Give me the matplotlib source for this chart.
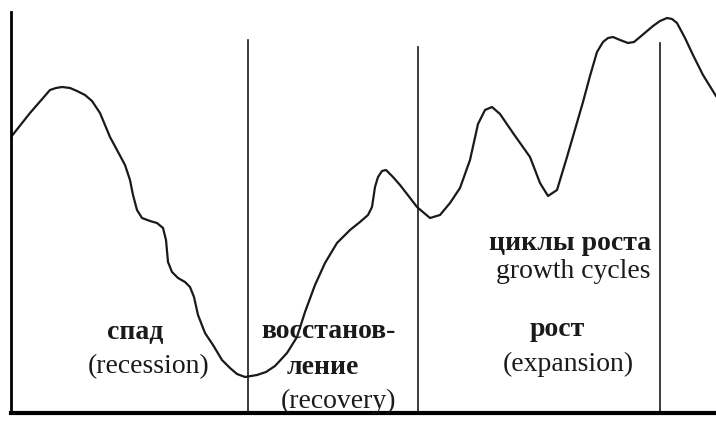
import numpy as np
import matplotlib.pyplot as plt

plt.rcParams['font.family'] = ['Liberation Serif', 'DejaVu Serif']

# curve: time (0..705) vs level (0..401)
t = [0, 19, 39, 45, 51, 59, 66, 74, 81, 89, 99, 106, 114, 119, 122, 126,
     131, 139, 146, 152, 155, 157, 161, 167, 174, 179, 183, 187, 194, 202,
     211, 219, 226, 234, 246, 255, 264, 276, 286, 294, 304, 314, 326, 339,
     349, 357, 361, 364, 367, 371, 375, 382, 389, 396, 406, 419, 429, 439,
     449, 459, 467, 474, 481, 489, 502, 519, 529, 537, 546, 556, 572, 579,
     586, 592, 597, 602, 609, 617, 623, 629, 642, 649, 656, 661, 666, 674,
     682, 692, 705]
level = [276, 300, 323, 325, 326, 325, 322, 318, 312, 300, 276, 263, 248,
         233, 218, 203, 195, 192, 190, 185, 173, 151, 141, 135, 131, 126,
         116, 98, 80, 68, 53, 45, 39, 36, 38, 41, 47, 60, 76, 101, 128, 150,
         170, 183, 191, 198, 206, 226, 236, 242, 243, 236, 228, 219, 206,
         195, 198, 210, 225, 253, 289, 303, 306, 299, 280, 256, 230, 217,
         223, 256, 311, 337, 361, 371, 375, 376, 373, 370, 371, 376, 387,
         392, 395, 394, 390, 375, 358, 338, 317]

phase_bounds = [237, 407, 649]
bound_tops = [373, 366, 370]

labels = [
    (124, 80, 'спад', 'bold', 'center'),
    (138, 46, '(recession)', 'normal', 'center'),
    (317, 81, 'восстанов-', 'bold', 'center'),
    (312, 46, 'ление', 'bold', 'center'),
    (327, 12, '(recovery)', 'normal', 'center'),
    (640, 170, 'циклы роста', 'bold', 'right'),
    (640, 141, 'growth cycles', 'normal', 'right'),
    (546, 84, 'рост', 'bold', 'center'),
    (557, 49, '(expansion)', 'normal', 'center'),
]

fig = plt.figure(figsize=(7.16, 4.21), dpi=100)
ax = fig.add_axes([11 / 716, 8 / 421, 705 / 716, 401 / 421])
ax.plot(t, level, color='#1a1a1a', lw=1.6, solid_joinstyle='round')
for xb, yt in zip(phase_bounds, bound_tops):
    ax.plot([xb, xb], [0, yt], color='#1a1a1a', lw=1.2)

for x, y, s, w, ha in labels:
    ax.text(x, y, s, fontsize=20, fontweight=w, ha=ha, va='center', color='#1a1a1a')

ax.set_xlim(0, 705)
ax.set_ylim(0, 401)
ax.spines[['top', 'right']].set_visible(False)
ax.spines['left'].set_linewidth(2)
ax.spines['bottom'].set_linewidth(3)
ax.set_xticks([])
ax.set_yticks([])
fig.savefig('out.png', dpi=100)
